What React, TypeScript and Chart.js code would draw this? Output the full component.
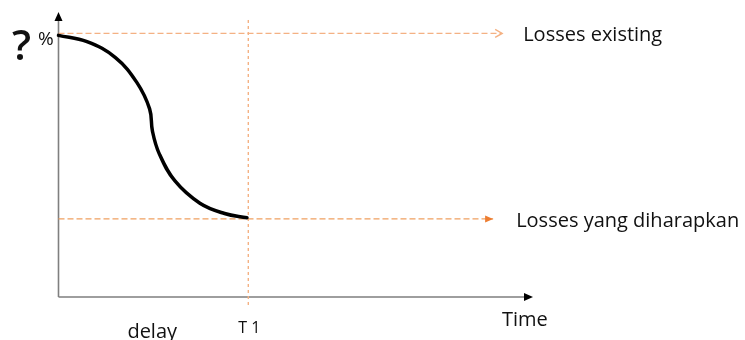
import React, { useEffect, useRef } from "react";
import { Chart, registerables } from "chart.js";

Chart.register(...registerables);

// ---- data ----
const curveX = [0, 6, 12, 16.5, 19.2, 19.8, 21.2, 24.5, 29.8, 35, 39.72];
const curveY = [91.8, 89.6, 84.0, 75.3, 66.0, 58.2, 50.4, 40.8, 32.9, 29.3, 27.8];
const existingLevel = 92.5;
const existingEnd = 93.5;
const targetLevel = 27.4;
const targetEnd = 91.6;
const t1Value = 40;
const t1Range = [-2.8, 97.9];
const labels = {
  question: "?",
  percent: "%",
  existing: "Losses existing",
  target: "Losses yang diharapkan",
  time: "Time",
  t1: "T 1",
  delay: "delay",
};

const FONT = "'Open Sans', sans-serif";

const drawPlugin = {
  id: "diagram",
  beforeDatasetsDraw(chart: any) {
    const ctx = chart.ctx;
    const xs = chart.scales.x;
    const ys = chart.scales.y;
    const x0 = xs.getPixelForValue(0);
    const y0 = ys.getPixelForValue(0);
    const xTip = xs.getPixelForValue(100);
    const yTip = ys.getPixelForValue(100);
    ctx.save();
    ctx.strokeStyle = "#7f7f7f";
    ctx.lineWidth = 1.6;
    ctx.beginPath();
    ctx.moveTo(x0, y0);
    ctx.lineTo(x0, yTip + 6);
    ctx.moveTo(x0, y0);
    ctx.lineTo(xTip - 6, y0);
    ctx.stroke();
    ctx.fillStyle = "#000";
    ctx.beginPath();
    ctx.moveTo(x0, yTip);
    ctx.lineTo(x0 - 4, yTip + 9);
    ctx.lineTo(x0 + 4, yTip + 9);
    ctx.closePath();
    ctx.fill();
    ctx.beginPath();
    ctx.moveTo(xTip, y0);
    ctx.lineTo(xTip - 9, y0 - 4);
    ctx.lineTo(xTip - 9, y0 + 4);
    ctx.closePath();
    ctx.fill();
    ctx.restore();
  },
  afterDatasetsDraw(chart: any) {
    const ctx = chart.ctx;
    const xs = chart.scales.x;
    const ys = chart.scales.y;
    ctx.save();
    // open arrow head on existing line
    const ex = xs.getPixelForValue(existingEnd);
    const ey = ys.getPixelForValue(existingLevel);
    ctx.strokeStyle = "#F4B183";
    ctx.lineWidth = 1.4;
    ctx.beginPath();
    ctx.moveTo(ex - 7, ey - 4);
    ctx.lineTo(ex, ey);
    ctx.lineTo(ex - 7, ey + 4);
    ctx.stroke();
    // filled arrow head on target line
    const tx = xs.getPixelForValue(targetEnd);
    const ty = ys.getPixelForValue(targetLevel);
    ctx.fillStyle = "#ED7D31";
    ctx.beginPath();
    ctx.moveTo(tx, ty);
    ctx.lineTo(tx - 8, ty - 3.5);
    ctx.lineTo(tx - 8, ty + 3.5);
    ctx.closePath();
    ctx.fill();

    // texts
    ctx.fillStyle = "#111";
    ctx.textBaseline = "alphabetic";
    ctx.textAlign = "left";
    ctx.font = `600 42px ${FONT}`;
    ctx.fillText(labels.question, 12, ey + 27);
    ctx.font = `19px ${FONT}`;
    ctx.fillText(labels.percent, 38, ey + 12);
    ctx.font = `20px ${FONT}`;
    ctx.fillText(labels.existing, ex + 21, ey + 8);
    ctx.fillText(labels.target, tx + 23, ty + 8);
    const y0 = ys.getPixelForValue(0);
    ctx.fillText(labels.time, xs.getPixelForValue(100) - 31, y0 + 29);
    ctx.fillText(labels.delay, xs.getPixelForValue(t1Value / 2) - 26, y0 + 41);
    ctx.font = `16px ${FONT}`;
    ctx.textAlign = "center";
    ctx.fillText(labels.t1, xs.getPixelForValue(t1Value) + 1, y0 + 36);
    ctx.restore();
  },
};

export default function App() {
  const ref = useRef<HTMLCanvasElement | null>(null);
  useEffect(() => {
    if (!ref.current) return;
    const curve = curveX.map((x, i) => ({ x, y: curveY[i] }));
    const chart = new Chart(ref.current, {
      type: "scatter",
      data: {
        datasets: [
          {
            data: curve,
            showLine: true,
            borderColor: "#000",
            borderWidth: 3.5,
            borderCapStyle: "round",
            borderJoinStyle: "round",
            pointRadius: 0,
            tension: 0.4,
            clip: false,
          } as any,
          {
            data: [
              { x: 0, y: existingLevel },
              { x: existingEnd, y: existingLevel },
            ],
            showLine: true,
            borderColor: "#F4B183",
            borderWidth: 1.4,
            borderDash: [6, 3],
            pointRadius: 0,
            clip: false,
          },
          {
            data: [
              { x: 0, y: targetLevel },
              { x: targetEnd, y: targetLevel },
            ],
            showLine: true,
            borderColor: "#F0A060",
            borderWidth: 1.4,
            borderDash: [6, 3],
            pointRadius: 0,
            clip: false,
          },
          {
            data: [
              { x: t1Value, y: t1Range[0] },
              { x: t1Value, y: t1Range[1] },
            ],
            showLine: true,
            borderColor: "#F4B183",
            borderWidth: 1.4,
            borderDash: [3, 3],
            pointRadius: 0,
            clip: false,
          },
        ],
      },
      options: {
        responsive: false,
        devicePixelRatio: 1,
        animation: false,
        layout: { padding: { left: 58.5, right: 212, top: 12, bottom: 43 } },
        scales: {
          x: { type: "linear", min: 0, max: 100, display: false },
          y: { type: "linear", min: 0, max: 100, display: false },
        },
        plugins: { legend: { display: false }, tooltip: { enabled: false } },
      },
      plugins: [drawPlugin],
    });
    return () => chart.destroy();
  }, []);
  return (
    <div style={{ position: "fixed", left: 0, top: 0, width: 745, height: 340, background: "#fff" }}>
      <canvas ref={ref} width={745} height={340} />
    </div>
  );
}
